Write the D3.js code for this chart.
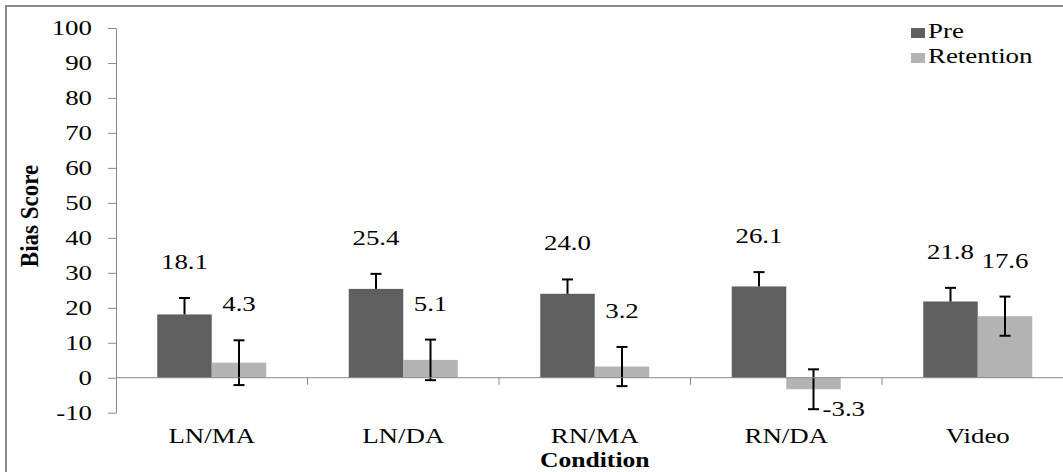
<!DOCTYPE html>
<html>
<head>
<meta charset="utf-8">
<script src="https://cdn.jsdelivr.net/npm/d3@7"></script>
<style>
  body { margin: 0; background: #fff; }
  svg text { font-family: "Liberation Serif", "Times New Roman", serif; fill: #000; }
</style>
</head>
<body>
<script>
// data
const categories = ["LN/MA", "LN/DA", "RN/MA", "RN/DA", "Video"];
const seriesNames = ["Pre", "Retention"];
const preValues = [18.1, 25.4, 24.0, 26.1, 21.8];
const retentionValues = [4.3, 5.1, 3.2, -3.3, 17.6];
const preErrors = [4.7, 4.3, 4.1, 4.1, 3.9];        // plus direction only
const retentionErrors = [6.4, 5.8, 5.6, 5.7, 5.6];  // both directions
const yTicks = [-10, 0, 10, 20, 30, 40, 50, 60, 70, 80, 90, 100];

const width = 1063, height = 472;
const plotLeft = 116, plotRight = 1073.5, plotTop = 28, plotBottom = 412.7;
const stretch = 1.28; // text in the source is widened horizontally
const colors = { Pre: "#5f5f5f", Retention: "#b3b3b3" };
const axisColor = "#888";

// plain hyphen for negatives, like the source
const fmtTick = d => String(d);
const fmtVal = d => d.toFixed(1);

const rows = categories.map((c, i) => ({
  category: c,
  bars: [
    { series: "Pre", value: preValues[i], errUp: preErrors[i], errDown: 0 },
    { series: "Retention", value: retentionValues[i], errUp: retentionErrors[i], errDown: retentionErrors[i] }
  ]
}));

const x0 = d3.scaleBand().domain(categories).range([plotLeft, plotRight]).padding(0);
const x1 = d3.scaleBand().domain(seriesNames).range([0, x0.bandwidth()])
  .paddingInner(0).paddingOuter(0.757);
const y = d3.scaleLinear().domain([-10, 100]).range([plotBottom, plotTop]);

const svg = d3.select("body").append("svg")
  .attr("width", width)
  .attr("height", height);

// outer frame (cropped on right and bottom)
svg.append("rect")
  .attr("x", 6).attr("y", 6)
  .attr("width", 1100).attr("height", 500)
  .attr("fill", "none")
  .attr("stroke", "#8a8a8a")
  .attr("stroke-width", 2);

// y axis
const yAxis = svg.append("g")
  .attr("transform", `translate(${plotLeft},0)`)
  .call(d3.axisLeft(y).tickValues(yTicks).tickSize(8).tickSizeOuter(0).tickFormat(fmtTick));
yAxis.select(".domain").attr("stroke", axisColor);
yAxis.selectAll(".tick line").attr("stroke", axisColor);
yAxis.selectAll(".tick text")
  .attr("x", 0)
  .attr("font-size", "21px")
  .attr("text-anchor", "end")
  .attr("transform", `translate(-24,0) scale(${stretch},1)`);

// bars
const groups = svg.append("g").selectAll("g")
  .data(rows)
  .join("g")
  .attr("transform", d => `translate(${x0(d.category)},0)`);

groups.selectAll("rect")
  .data(d => d.bars)
  .join("rect")
  .attr("x", d => x1(d.series))
  .attr("width", x1.bandwidth())
  .attr("y", d => y(Math.max(0, d.value)))
  .attr("height", d => Math.abs(y(d.value) - y(0)))
  .attr("fill", d => colors[d.series]);

// x axis line at zero, with boundary ticks
svg.append("line")
  .attr("x1", plotLeft).attr("x2", plotRight)
  .attr("y1", y(0)).attr("y2", y(0))
  .attr("stroke", axisColor);
const bounds = categories.slice(1).map(c => x0(c)).concat([plotRight]);
svg.append("g").selectAll("line")
  .data(bounds)
  .join("line")
  .attr("x1", d => d).attr("x2", d => d)
  .attr("y1", y(0)).attr("y2", y(0) + 7)
  .attr("stroke", axisColor);

// error bars
const capHalf = 5.5;
const err = groups.selectAll("g.err")
  .data(d => d.bars)
  .join("g")
  .attr("class", "err")
  .attr("stroke", "#000")
  .attr("stroke-width", 2);
err.append("line")
  .attr("x1", d => x1(d.series) + x1.bandwidth() / 2)
  .attr("x2", d => x1(d.series) + x1.bandwidth() / 2)
  .attr("y1", d => y(d.value + d.errUp))
  .attr("y2", d => y(d.value - d.errDown));
err.append("line")
  .attr("x1", d => x1(d.series) + x1.bandwidth() / 2 - capHalf)
  .attr("x2", d => x1(d.series) + x1.bandwidth() / 2 + capHalf)
  .attr("y1", d => y(d.value + d.errUp))
  .attr("y2", d => y(d.value + d.errUp));
err.filter(d => d.errDown > 0).append("line")
  .attr("x1", d => x1(d.series) + x1.bandwidth() / 2 - capHalf)
  .attr("x2", d => x1(d.series) + x1.bandwidth() / 2 + capHalf)
  .attr("y1", d => y(d.value - d.errDown))
  .attr("y2", d => y(d.value - d.errDown));

// value labels
groups.selectAll("text.val")
  .data(d => d.bars)
  .join("text")
  .attr("class", "val")
  .attr("font-size", "21px")
  .attr("text-anchor", d => d.value < 0 ? "start" : "middle")
  .attr("transform", d => {
    const cx = x1(d.series) + x1.bandwidth() / 2;
    if (d.value < 0) return `translate(${cx + 9},${y(d.value - d.errDown) + 7}) scale(${stretch},1)`;
    return `translate(${cx},${y(d.value + d.errUp) - 29}) scale(${stretch},1)`;
  })
  .text(d => fmtVal(d.value));

// category labels
svg.append("g").selectAll("text")
  .data(categories)
  .join("text")
  .attr("font-size", "21px")
  .attr("text-anchor", "middle")
  .attr("transform", d => `translate(${x0(d) + x0.bandwidth() / 2},${plotBottom + 30}) scale(${stretch},1)`)
  .text(d => d);

// axis titles
svg.append("text")
  .text("Condition")
  .attr("font-size", "20px")
  .attr("font-weight", "bold")
  .attr("text-anchor", "middle")
  .attr("transform", `translate(${(plotLeft + plotRight) / 2},467) scale(${stretch},1)`);

svg.append("text")
  .text("Bias Score")
  .attr("font-size", "23px")
  .attr("font-weight", "bold")
  .attr("text-anchor", "middle")
  .attr("transform", "translate(38,216) rotate(-90) scale(1,1.12)");

// legend
const legend = svg.append("g")
  .selectAll("g")
  .data(seriesNames)
  .join("g")
  .attr("transform", (d, i) => `translate(911,${28 + i * 25})`);
legend.append("rect")
  .attr("width", 14).attr("height", 10)
  .attr("fill", d => colors[d]);
legend.append("text")
  .attr("font-size", "21px")
  .attr("transform", `translate(17,10) scale(${stretch},1)`)
  .text(d => d);
</script>
</body>
</html>
